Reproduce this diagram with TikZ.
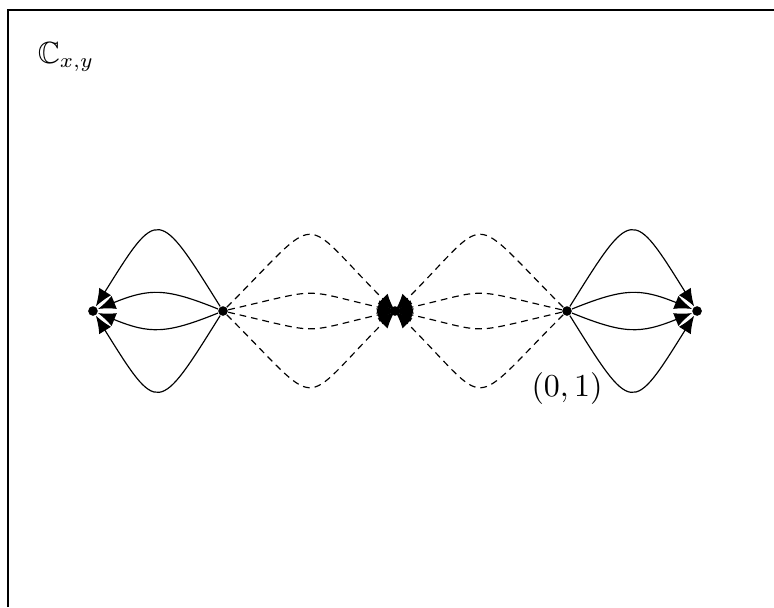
\documentclass[tikz,border=0pt]{standalone}
\usepackage{amsmath}
\usepackage{amssymb}
\usetikzlibrary{arrows.meta,positioning}

\begin{document}
\begin{tikzpicture}[x=1cm,y=1cm,
  pt/.style={circle,fill,inner sep=0pt,minimum size=3.3pt},
  txt/.style={font=\fontsize{10.5}{13}\selectfont},
  arr/.style={-{Latex[length=6pt,width=4.8pt]}},
  dsh/.style={arr,dash pattern=on 2.3pt off 1.7pt}]
  \useasboundingbox (-4.759,-3.566) rectangle (4.566,3.747);
  \draw (-4.663,-3.566) -- (-4.663,3.627) -- (4.566,3.627);
  \node[txt] (plane) at (-3.964,3.06) {$\mathbb{C}_{x,y}$};
  \node[pt] (a) at (-3.639,0) {};
  \node[pt] (b) at (-2.072,0) {};
  \node[pt] (c) at (0,0) {};
  \node[pt] (d) at (2.072,0) {};
  \node[pt] (e) at (3.639,0) {};
  \node[txt,below=0.55cm of d] (dlab) {$(0,1)$};
  % left end, into a
  \draw[arr] (b) to[out=122,in=58,looseness=2.43] (a);
  \draw[arr] (b) to[out=158,in=22,looseness=1.2] (a);
  \draw[arr] (b) to[out=202,in=-22,looseness=1.2] (a);
  \draw[arr] (b) to[out=238,in=-58,looseness=2.43] (a);
  % right end, into e
  \draw[arr] (d) to[out=58,in=122,looseness=2.43] (e);
  \draw[arr] (d) to[out=22,in=158,looseness=1.2] (e);
  \draw[arr] (d) to[out=-22,in=-158,looseness=1.2] (e);
  \draw[arr] (d) to[out=-58,in=-122,looseness=2.43] (e);
  % dashed, into c
  \draw[dsh] (b) to[out=45,in=135,looseness=2.1] (c.center);
  \draw[dsh] (b) to[out=13,in=167,looseness=1.52] (c.center);
  \draw[dsh] (b) to[out=-13,in=-167,looseness=1.52] (c.center);
  \draw[dsh] (b) to[out=-45,in=-135,looseness=2.1] (c.center);
  \draw[dsh] (d) to[out=135,in=45,looseness=2.1] (c.center);
  \draw[dsh] (d) to[out=167,in=13,looseness=1.52] (c.center);
  \draw[dsh] (d) to[out=-167,in=-13,looseness=1.52] (c.center);
  \draw[dsh] (d) to[out=-135,in=-45,looseness=2.1] (c.center);
\end{tikzpicture}
\end{document}
